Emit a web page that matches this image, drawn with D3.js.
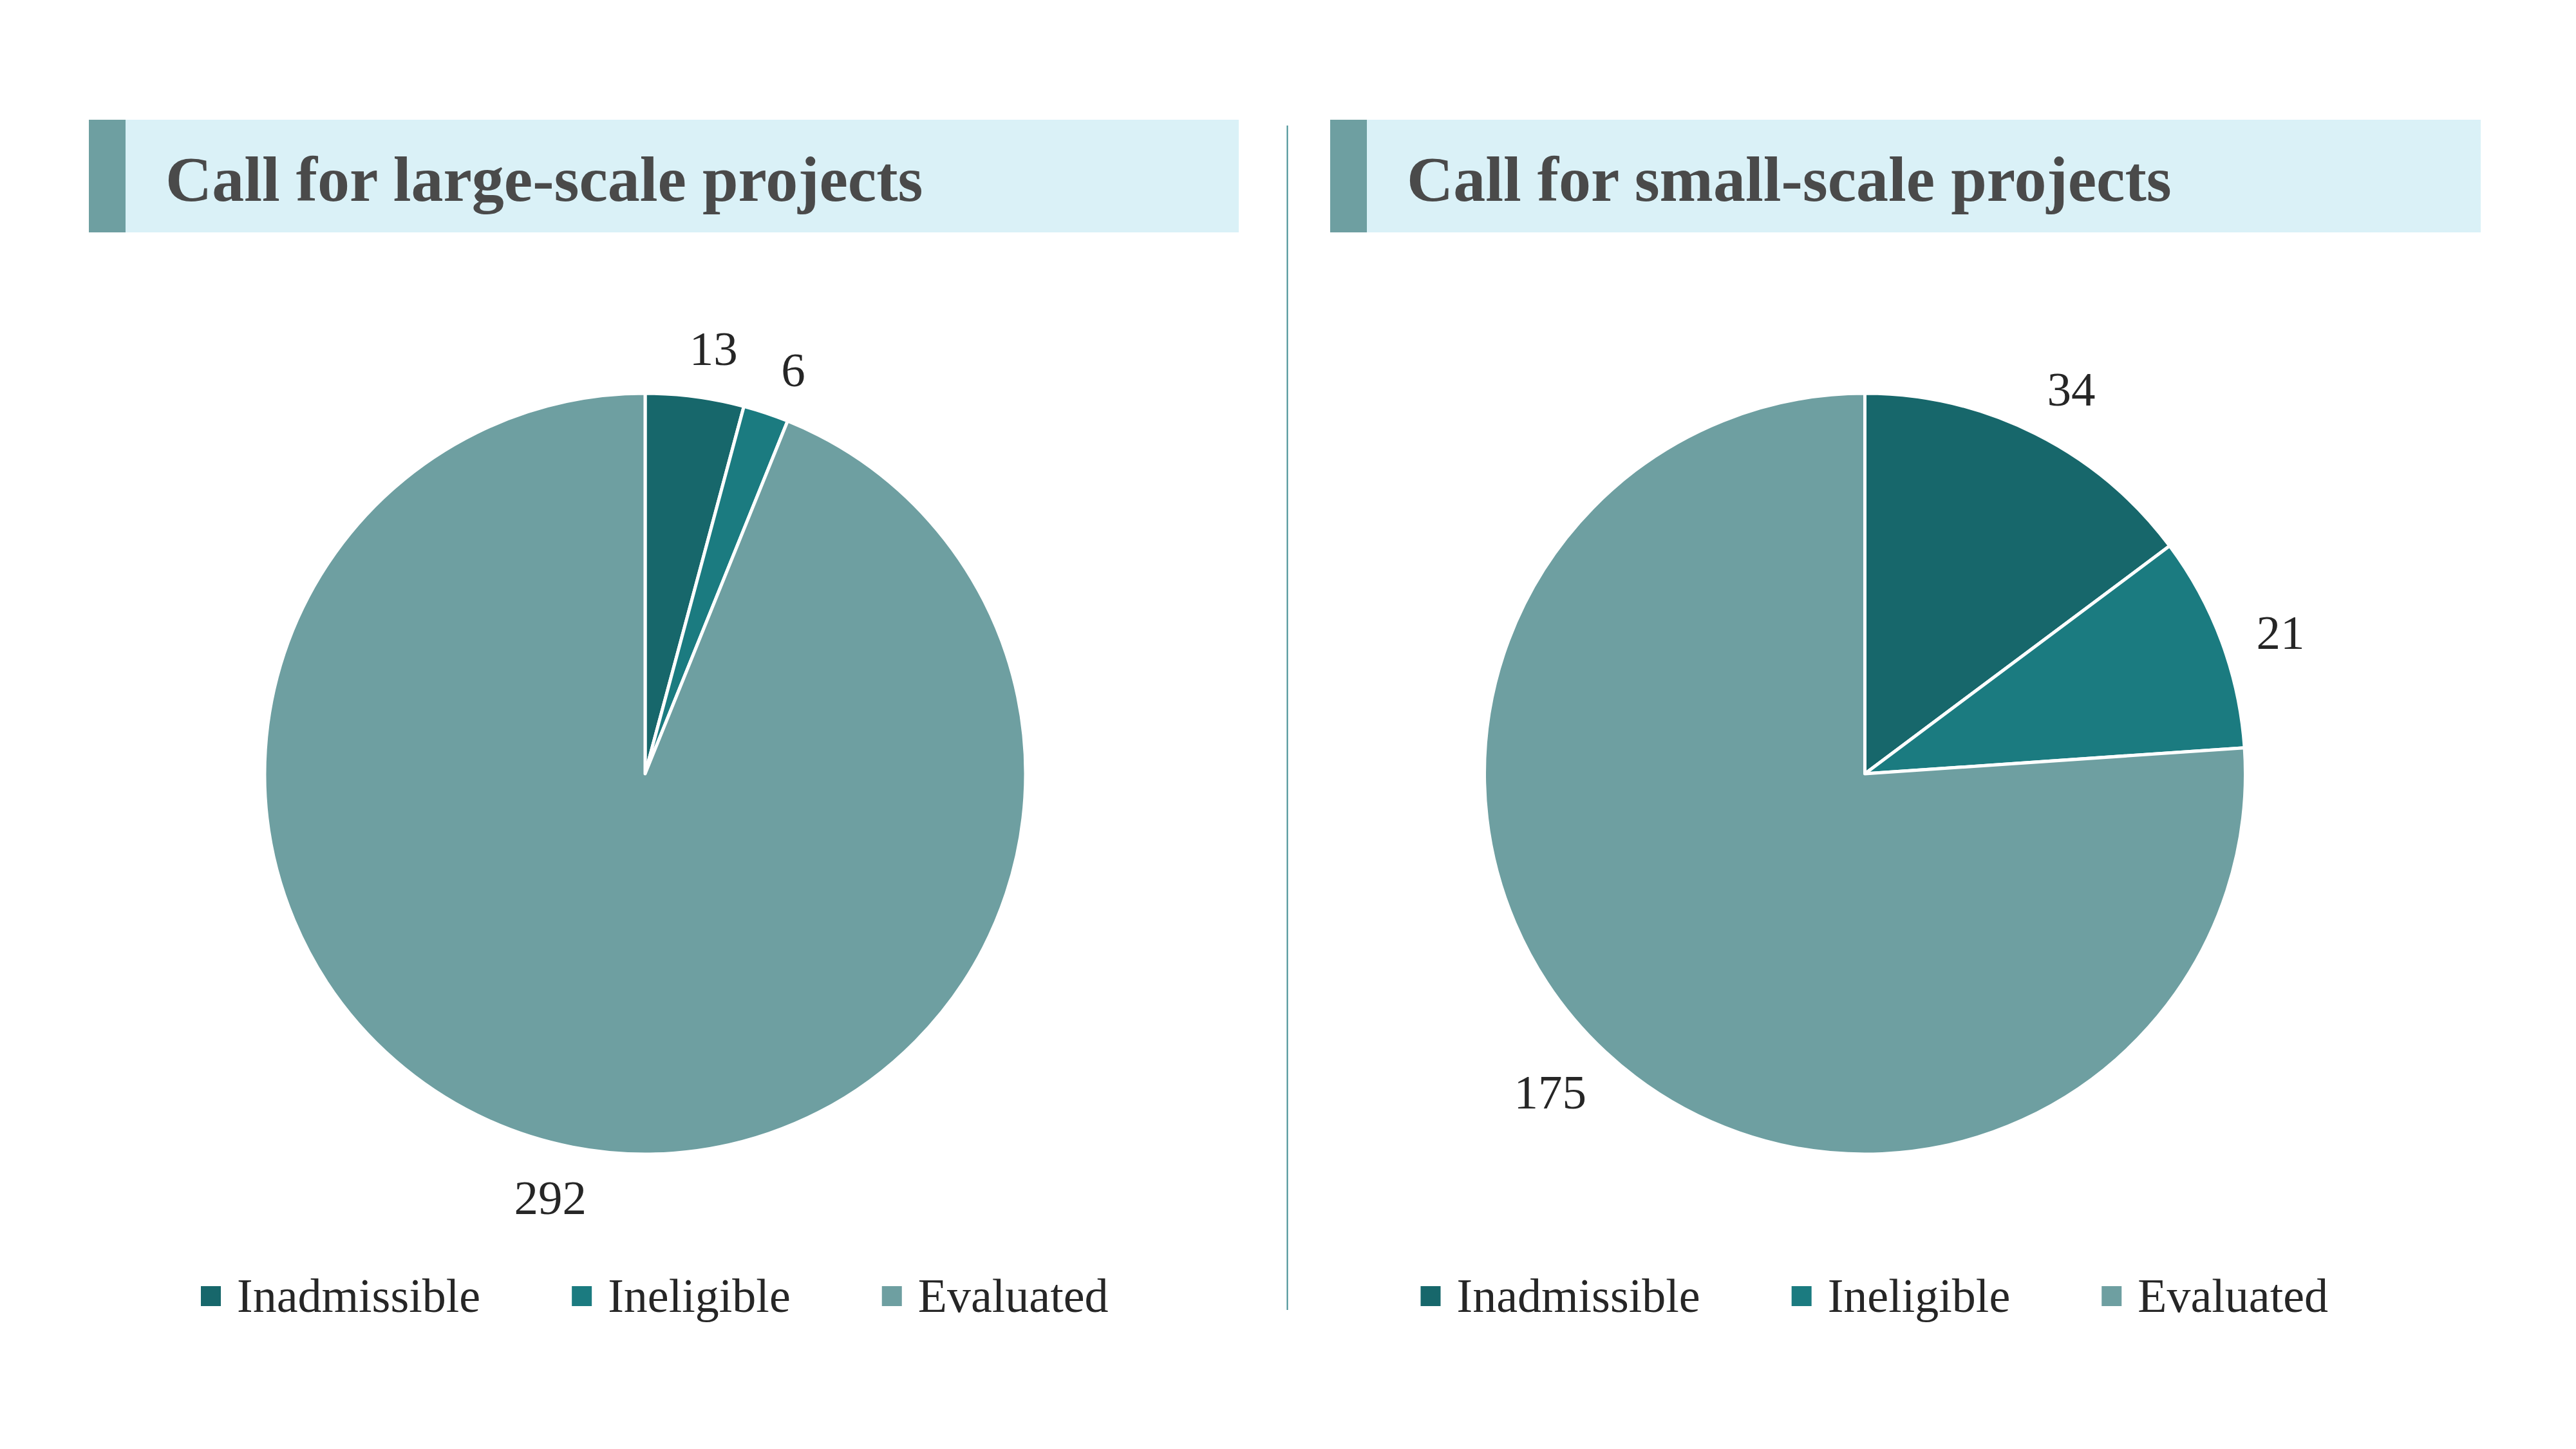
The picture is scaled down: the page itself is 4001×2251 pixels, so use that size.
<!DOCTYPE html>
<html>
<head>
<meta charset="utf-8">
<script src="https://cdn.jsdelivr.net/npm/d3@7"></script>
<style>
  html, body { margin: 0; padding: 0; background: #ffffff; }
  svg { display: block; }
</style>
</head>
<body>
<svg id="chart" width="4001" height="2251"></svg>
<script>
// ---- Data ----
const categories = ["Inadmissible", "Ineligible", "Evaluated"];
const panelTitles = ["Call for large-scale projects", "Call for small-scale projects"];
const largeScaleValues = [13, 6, 292];
const smallScaleValues = [34, 21, 175];
const colors = ["#17676b", "#1b7b80", "#6e9fa1"];

// ---- Layout ----
const W = 4001, H = 2251;
const svg = d3.select("#chart");
const serif = "'Liberation Serif', 'Times New Roman', 'DejaVu Serif', serif";

const panels = [
  { title: panelTitles[0], values: largeScaleValues, accentX: 138, bandEnd: 1924, cx: 1002 },
  { title: panelTitles[1], values: smallScaleValues, accentX: 2066, bandEnd: 3853, cx: 2896.5 }
];

const headerTop = 186, headerBottom = 361, accentW = 57;
const cy = 1202, R = 591;
const labelFont = 75, legendFont = 74;

// divider
svg.append("line")
  .attr("x1", 1999.5).attr("x2", 1999.5)
  .attr("y1", 195).attr("y2", 2035)
  .attr("stroke", "#3f8c91").attr("stroke-width", 2);

const color = d3.scaleOrdinal().domain(categories).range(colors);
const pie = d3.pie().sort(null).value(d => d.value).startAngle(0).endAngle(2 * Math.PI);
const arc = d3.arc().innerRadius(0).outerRadius(R);

panels.forEach(p => {
  const g = svg.append("g");

  // header band
  g.append("rect")
    .attr("x", p.accentX).attr("y", headerTop)
    .attr("width", p.bandEnd - p.accentX).attr("height", headerBottom - headerTop)
    .attr("fill", "#daf1f7");
  g.append("rect")
    .attr("x", p.accentX).attr("y", headerTop)
    .attr("width", accentW).attr("height", headerBottom - headerTop)
    .attr("fill", "#6e9fa1");
  g.append("text")
    .attr("x", p.accentX + accentW + 62).attr("y", 312)
    .attr("font-family", serif).attr("font-weight", "bold")
    .attr("font-size", 100).attr("fill", "#4a4a4a")
    .text(p.title);

  // pie
  const data = categories.map((c, i) => ({ cat: c, value: p.values[i] }));
  const arcs = pie(data);
  const pg = g.append("g").attr("transform", `translate(${p.cx},${cy})`);
  pg.selectAll("path").data(arcs).join("path")
    .attr("d", arc)
    .attr("fill", d => color(d.data.cat))
    .attr("stroke", "#ffffff").attr("stroke-width", 5)
    .attr("stroke-linejoin", "round");

  // labels (outside end)
  const lbl = pg.selectAll("text.lbl").data(arcs).join("text")
    .attr("class", "lbl")
    .attr("font-family", serif).attr("font-size", labelFont)
    .attr("fill", "#262626").attr("text-anchor", "middle")
    .text(d => d.data.value);
  lbl.each(function(d) {
    const w = this.getComputedTextLength();
    const h = labelFont * 0.68;
    const a = (d.startAngle + d.endAngle) / 2 + 0.028;
    const s = Math.sin(a), c = Math.cos(a);
    const dist = R + 47 + Math.abs(s) * w / 2 + Math.abs(c) * h / 2;
    const x = dist * s, y = -dist * c;
    d3.select(this).attr("x", x).attr("y", y + h / 2);
  });

  // legend
  const lg = g.append("g");
  let x = p.cx - 690;
  const sq = 31, baseline = 2038;
  categories.forEach((c, i) => {
    lg.append("rect")
      .attr("x", x).attr("y", baseline - 9 - sq)
      .attr("width", sq).attr("height", sq)
      .attr("fill", color(c));
    const t = lg.append("text")
      .attr("x", x + sq + 25).attr("y", baseline)
      .attr("font-family", serif).attr("font-size", legendFont)
      .attr("fill", "#262626")
      .text(c);
    x += sq + 25 + t.node().getComputedTextLength() + 142;
  });
});
</script>
</body>
</html>
